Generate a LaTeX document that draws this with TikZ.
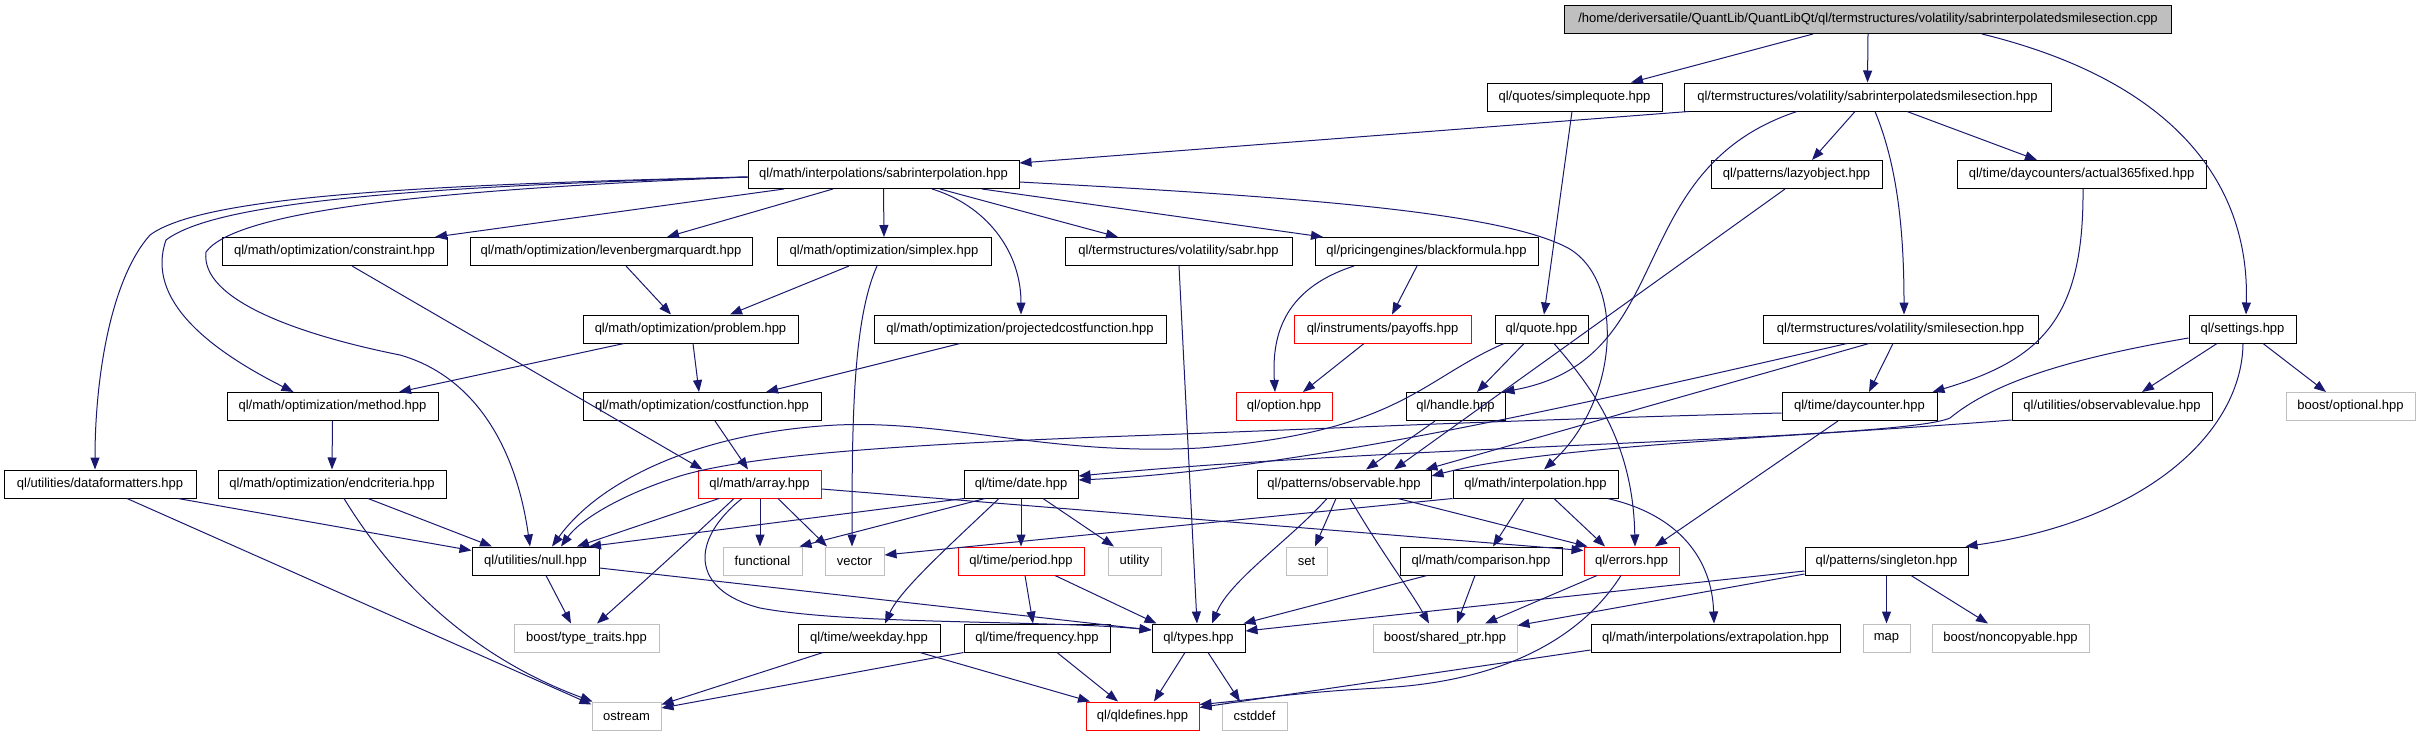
\documentclass[tikz,border=0pt]{standalone}
\usepackage{fontspec}
\setmainfont{Liberation Sans}
\usetikzlibrary{arrows.meta}
\definecolor{edgecol}{HTML}{191970}
\definecolor{graybd}{HTML}{BFBFBF}
\definecolor{topfill}{HTML}{BFBFBF}
\begin{document}
\begin{tikzpicture}[x=1pt,y=-1pt,
  nb/.style={draw=black, line width=1pt, minimum height=28pt, inner xsep=2pt, inner ysep=0pt, font=\fontsize{13}{15}\selectfont, anchor=center},
  gb/.style={nb, draw=graybd},
  rb/.style={nb, draw=red},
  e/.style={draw=edgecol, line width=1pt, -{Triangle[length=12pt,width=9pt]}}]
\fill[white] (0,0) rectangle (2420,736);
\useasboundingbox (0,0) rectangle (2420,736);
% row 1
\node[nb, fill=topfill, minimum width=607pt] (top) at (1868,19.5) {/home/deriversatile/QuantLib/QuantLibQt/ql/termstructures/volatility/sabrinterpolatedsmilesection.cpp};
% row 2
\node[nb, minimum width=175pt] (sq) at (1574.5,97) {ql/quotes/simplequote.hpp};
\node[nb, minimum width=367pt] (ssh) at (1867.5,97) {ql/termstructures/volatility/sabrinterpolatedsmilesection.hpp};
% row 3
\node[nb, minimum width=271pt] (si) at (883.5,174.5) {ql/math/interpolations/sabrinterpolation.hpp};
\node[nb, minimum width=171pt] (lazy) at (1796.5,174.5) {ql/patterns/lazyobject.hpp};
\node[nb, minimum width=249pt] (act) at (2081.5,174.5) {ql/time/daycounters/actual365fixed.hpp};
% row 4
\node[nb, minimum width=225pt] (cons) at (334.5,251.5) {ql/math/optimization/constraint.hpp};
\node[nb, minimum width=282pt] (lev) at (611,251.5) {ql/math/optimization/levenbergmarquardt.hpp};
\node[nb, minimum width=214pt] (simplex) at (884,251.5) {ql/math/optimization/simplex.hpp};
\node[nb, minimum width=227pt] (sabr) at (1178.5,251.5) {ql/termstructures/volatility/sabr.hpp};
\node[nb, minimum width=223pt] (black) at (1426.5,251.5) {ql/pricingengines/blackformula.hpp};
% row 5
\node[nb, minimum width=215pt] (prob) at (690.5,329) {ql/math/optimization/problem.hpp};
\node[nb, minimum width=292pt] (proj) at (1020,329) {ql/math/optimization/projectedcostfunction.hpp};
\node[rb, minimum width=177pt] (payoffs) at (1382.5,329) {ql/instruments/payoffs.hpp};
\node[nb, minimum width=93pt] (quote) at (1541.5,329) {ql/quote.hpp};
\node[nb, minimum width=275pt] (smile) at (1900.5,329) {ql/termstructures/volatility/smilesection.hpp};
\node[nb, minimum width=107pt] (settings) at (2242.5,329) {ql/settings.hpp};
% row 6
\node[nb, minimum width=211pt] (method) at (332.5,406.5) {ql/math/optimization/method.hpp};
\node[nb, minimum width=238pt] (cost) at (702,406.5) {ql/math/optimization/costfunction.hpp};
\node[rb, minimum width=96pt] (option) at (1284,406.5) {ql/option.hpp};
\node[nb, minimum width=99pt] (handle) at (1455.5,406.5) {ql/handle.hpp};
\node[nb, minimum width=155pt] (dc) at (1859.5,406.5) {ql/time/daycounter.hpp};
\node[nb, minimum width=200pt] (ov) at (2112,406.5) {ql/utilities/observablevalue.hpp};
\node[gb, minimum width=129pt] (optional) at (2350.5,406.5) {boost/optional.hpp};
% row 7
\node[nb, minimum width=192pt] (df) at (100,484) {ql/utilities/dataformatters.hpp};
\node[nb, minimum width=228pt] (ec) at (332,484) {ql/math/optimization/endcriteria.hpp};
\node[rb, minimum width=123pt] (array) at (759.5,484) {ql/math/array.hpp};
\node[nb, minimum width=114pt] (date) at (1021,484) {ql/time/date.hpp};
\node[nb, minimum width=174pt] (obs) at (1344,484) {ql/patterns/observable.hpp};
\node[nb, minimum width=165pt] (interp) at (1535.5,484) {ql/math/interpolation.hpp};
% row 8
\node[nb, minimum width=127pt] (null) at (535.5,561) {ql/utilities/null.hpp};
\node[gb, minimum width=79pt] (functional) at (762.5,561) {functional};
\node[gb, minimum width=59pt] (vector) at (854.5,561) {vector};
\node[rb, minimum width=126pt] (period) at (1021,561) {ql/time/period.hpp};
\node[gb, minimum width=53pt] (utility) at (1134.5,561) {utility};
\node[gb, minimum width=41pt] (set) at (1306.5,561) {set};
\node[nb, minimum width=162pt] (comp) at (1481,561) {ql/math/comparison.hpp};
\node[rb, minimum width=95pt] (errors) at (1631.5,561) {ql/errors.hpp};
\node[nb, minimum width=163pt] (singleton) at (1886.5,561) {ql/patterns/singleton.hpp};
% row 9
\node[gb, minimum width=145pt] (tt) at (586.5,638) {boost/type\_traits.hpp};
\node[nb, minimum width=142pt] (weekday) at (869,638) {ql/time/weekday.hpp};
\node[nb, minimum width=146pt] (freq) at (1037,638) {ql/time/frequency.hpp};
\node[nb, minimum width=93pt] (types) at (1198.5,638) {ql/types.hpp};
\node[gb, minimum width=144pt] (sp) at (1445,638) {boost/shared\_ptr.hpp};
\node[nb, minimum width=249pt] (extrap) at (1715.5,638) {ql/math/interpolations/extrapolation.hpp};
\node[gb, minimum width=47pt] (map) at (1886.5,638) {map};
\node[gb, minimum width=157pt] (nc) at (2010.5,638) {boost/noncopyable.hpp};
% row 10
\node[gb, minimum width=69pt] (ostream) at (626.5,716) {ostream};
\node[rb, minimum width=113pt] (qld) at (1142.5,716) {ql/qldefines.hpp};
\node[gb, minimum width=65pt] (cstddef) at (1254.5,716) {cstddef};

% edges from top
\draw[e] ([xshift=-55pt]top.south) -- ([xshift=56.5pt]sq.north);
\draw[e] (top.south) -- (ssh.north);
\draw[e] ([xshift=114pt]top.south) .. controls (2170,80) and (2250,180) .. ([xshift=3.5pt]settings.north);
\draw[e] ([xshift=-2.5pt]sq.south) -- ([xshift=2.5pt]quote.north);
% ssh
\draw[e] ([xshift=5pt]ssh.south west) -- ([yshift=11.5pt]si.east);
\draw[e] ([xshift=-12.5pt]ssh.south) -- ([xshift=15.5pt]lazy.north);
\draw[e] ([xshift=39.5pt]ssh.south) -- ([xshift=-44.5pt]act.north);
\draw[e] ([xshift=7.5pt]ssh.south) .. controls (1895,160) and (1904,220) .. ([xshift=3.5pt]smile.north);
\draw[e] ([xshift=-70.5pt]ssh.south) .. controls (1620,170) and (1680,360) .. ([xshift=-3pt]handle.north east);
\draw[e] ([xshift=-11.5pt]lazy.south) -- ([xshift=50pt]obs.north);
\draw[e] ([xshift=1.5pt]act.south) .. controls (2084,320) and (2040,360) .. ([xshift=-5pt]dc.north east);
% si
\draw[e] ([xshift=-99.5pt]si.south) -- ([xshift=100.5pt]cons.north);
\draw[e] ([xshift=-50.5pt]si.south) -- ([xshift=56pt]lev.north);
\draw[e] (si.south) -- (simplex.north);
\draw[e] ([xshift=56.5pt]si.south) -- ([xshift=-60.5pt]sabr.north);
\draw[e] ([xshift=98.5pt]si.south) -- ([xshift=-103.5pt]black.north);
\draw[e] ([xshift=48.5pt]si.south) .. controls (985,205) and (1021,250) .. ([xshift=1pt]proj.north);
\draw[e] ([yshift=-7.5pt]si.east) .. controls (1300,197) and (1500,212) .. (1568,248) .. controls (1625,280) and (1620,400) .. ([xshift=8.5pt]interp.north);
\draw[e] ([yshift=-2.5pt]si.west) .. controls (400,185) and (200,198) .. (150,235) .. controls (110,280) and (95,380) .. ([xshift=-5pt]df.north);
\draw[e] ([yshift=-2.5pt]si.west) .. controls (400,187) and (215,203) .. (166,240) .. controls (145,300) and (210,350) .. ([xshift=-39pt]method.north);
\draw[e] ([yshift=-2.5pt]si.west) .. controls (420,190) and (235,212) .. (206,252) .. controls (200,300) and (300,335) .. (400,355) .. controls (470,375) and (515,440) .. ([xshift=-5.5pt]null.north);
% row 4 sources
\draw[e] ([xshift=17.5pt]cons.south) -- ([xshift=5pt]array.north west);
\draw[e] ([xshift=15pt]lev.south) -- ([xshift=-19.5pt]prob.north);
\draw[e] ([xshift=-35pt]simplex.south) -- ([xshift=39.5pt]prob.north);
\draw[e] ([xshift=-7pt]simplex.south) .. controls (853,320) and (852,420) .. ([xshift=-2.5pt]vector.north);
\draw[e] ([xshift=0.5pt]sabr.south) -- ([xshift=-1.5pt]types.north);
\draw[e] ([xshift=-9.5pt]black.south) -- ([xshift=9.5pt]payoffs.north);
\draw[e] ([xshift=-72.5pt]black.south) .. controls (1280,290) and (1272,340) .. ([xshift=-9pt]option.north);
% row 5 sources
\draw[e] ([xshift=-18.5pt]payoffs.south) -- ([xshift=19pt]option.north);
\draw[e] ([xshift=-17.5pt]quote.south) -- ([xshift=21.5pt]handle.north);
\draw[e] ([xshift=12.5pt]quote.south) .. controls (1590,385) and (1633,440) .. ([xshift=3.5pt]errors.north);
\draw[e] ([xshift=-37.5pt]quote.south) .. controls (1420,380) and (1400,432) .. (1200,448) .. controls (1050,456) and (950,420) .. (837,425) .. controls (700,432) and (600,480) .. ([xshift=16.5pt]null.north);
\draw[e] ([xshift=-7.5pt]smile.south) -- ([xshift=9.5pt]dc.north);
\draw[e] ([xshift=-31.5pt]smile.south) -- ([xshift=-6pt]obs.north east);
\draw[e] ([xshift=-53.5pt]smile.south) .. controls (1600,400) and (1300,470) .. ([yshift=4pt]date.east);
\draw[e] ([xshift=-25.5pt]settings.south) -- ([xshift=30pt]ov.north);
\draw[e] ([xshift=20.5pt]settings.south) -- ([xshift=-24.5pt]optional.north);
\draw[e] ([xshift=0.5pt]settings.south) .. controls (2242,430) and (2150,520) .. ([xshift=-3pt]singleton.north east);
\draw[e] ([yshift=-9pt]settings.west) .. controls (2060,360) and (1990,385) .. (1950,418) .. controls (1900,440) and (1400,445) .. ([yshift=8pt]date.east);
\draw[e] ([xshift=-66.5pt]prob.south) -- ([xshift=66.5pt]method.north);
\draw[e] ([xshift=2.5pt]prob.south) -- ([xshift=-3pt]cost.north);
\draw[e] ([xshift=-60pt]proj.south) -- ([xshift=64pt]cost.north);
% row 6 sources
\draw[e] (method.south) -- (ec.north);
\draw[e] ([xshift=13pt]cost.south) -- ([xshift=-11.5pt]array.north);
\draw[e] ([xshift=-20.5pt]handle.south) -- ([xshift=22pt]obs.north);
\draw[e] ([xshift=-21.5pt]dc.south) -- ([xshift=23.5pt]errors.north);
\draw[e] ([yshift=-6.5pt]dc.west) .. controls (1500,420) and (1300,430) .. (1100,437) .. controls (900,445) and (750,455) .. (680,476) .. controls (620,495) and (580,520) .. ([xshift=25.5pt]null.north);
\draw[e] ([yshift=-13.5pt]ov.west) .. controls (1800,437) and (1550,445) .. ([yshift=8pt]obs.east);
% row 7 sources
\draw[e] ([xshift=78pt]df.south) -- ([yshift=-4pt]null.north west);
\draw[e] ([xshift=27pt]df.south) -- ([yshift=-3pt]ostream.north west);
\draw[e] ([xshift=36pt]ec.south) -- ([xshift=-43.5pt]null.north);
\draw[e] ([xshift=12pt]ec.south) .. controls (400,590) and (480,660) .. ([xshift=1pt]ostream.north west);
\draw[e] ([xshift=-40.5pt]array.south) -- ([xshift=41.5pt]null.north);
\draw[e] ([xshift=-25.5pt]array.south) .. controls (690,540) and (640,585) .. ([xshift=10.5pt]tt.north);
\draw[e] ([xshift=-17.5pt]array.south) .. controls (690,540) and (690,590) .. (760,608) .. controls (850,625) and (1050,620) .. ([yshift=8pt]types.west);
\draw[e] ([xshift=0.5pt]array.south) -- ([xshift=-2.5pt]functional.north);
\draw[e] ([xshift=18.5pt]array.south) -- ([xshift=-27.5pt]vector.north);
\draw[e] ([yshift=-5pt]array.east) -- ([yshift=-4pt]errors.north west);
\draw[e] ([xshift=-57pt]date.south) -- ([xshift=53.5pt]null.north);
\draw[e] ([xshift=-36pt]date.south) -- ([xshift=-3pt]functional.north east);
\draw[e] ([xshift=-22pt]date.south) .. controls (950,545) and (900,590) .. ([xshift=16pt]weekday.north);
\draw[e] (date.south) -- (period.north);
\draw[e] ([xshift=22pt]date.south) -- ([xshift=-20.5pt]utility.north);
\draw[e] (interp.south west) -- ([yshift=6pt]vector.east);
\draw[e] ([xshift=-17pt]obs.south) .. controls (1290,540) and (1230,580) .. ([xshift=13.5pt]types.north);
\draw[e] ([xshift=-8pt]obs.south) -- ([xshift=8.5pt]set.north);
\draw[e] ([xshift=6pt]obs.south) .. controls (1380,550) and (1410,590) .. ([xshift=-16pt]sp.north);
\draw[e] ([xshift=54pt]obs.south) -- ([xshift=4pt]errors.north west);
\draw[e] ([xshift=-11.5pt]interp.south) -- ([xshift=12pt]comp.north);
\draw[e] ([xshift=18.5pt]interp.south) -- ([xshift=-26.5pt]errors.north);
\draw[e] ([xshift=-11pt]interp.south east) .. controls (1680,515) and (1712,560) .. ([xshift=-1.5pt]extrap.north);
% row 8 sources
\draw[e] ([yshift=-7pt]null.east) -- ([yshift=8pt]types.west);
\draw[e] ([xshift=10.5pt]null.south) -- ([xshift=-15.5pt]tt.north);
\draw[e] ([xshift=4pt]period.south) -- ([xshift=-4pt]freq.north);
\draw[e] ([xshift=34pt]period.south) -- ([xshift=5pt]types.north west);
\draw[e] ([xshift=-54pt]comp.south) -- ([xshift=-2pt]types.north east);
\draw[e] ([xshift=-6pt]comp.south) -- ([xshift=12pt]sp.north);
\draw[e] ([xshift=-34.5pt]errors.south) -- ([xshift=40pt]sp.north);
\draw[e] ([xshift=-10.5pt]errors.south) .. controls (1580,640) and (1500,682) .. (1380,688) .. controls (1300,692) and (1250,700) .. ([yshift=-3pt]qld.north east);
\draw[e] ([yshift=-10pt]singleton.west) -- ([yshift=7pt]types.east);
\draw[e] ([yshift=-13pt]singleton.west) -- ([yshift=-2pt]sp.north east);
\draw[e] (singleton.south) -- (map.north);
\draw[e] ([xshift=24.5pt]singleton.south) -- ([xshift=-22.5pt]nc.north);
% row 9 sources
\draw[e] ([xshift=-46pt]weekday.south) -- ([yshift=-3pt]ostream.north east);
\draw[e] (freq.south west) -- ([yshift=8pt]ostream.east);
\draw[e] ([xshift=51pt]weekday.south) -- ([xshift=-52.5pt]qld.north);
\draw[e] ([xshift=20pt]freq.south) -- ([xshift=-24.5pt]qld.north);
\draw[e] ([xshift=-13.5pt]types.south) -- ([xshift=11.5pt]qld.north);
\draw[e] ([xshift=9.5pt]types.south) -- ([xshift=-14.5pt]cstddef.north);
\draw[e] ([yshift=-12pt]extrap.west) -- ([yshift=-6pt]qld.north east);
\end{tikzpicture}
\end{document}
